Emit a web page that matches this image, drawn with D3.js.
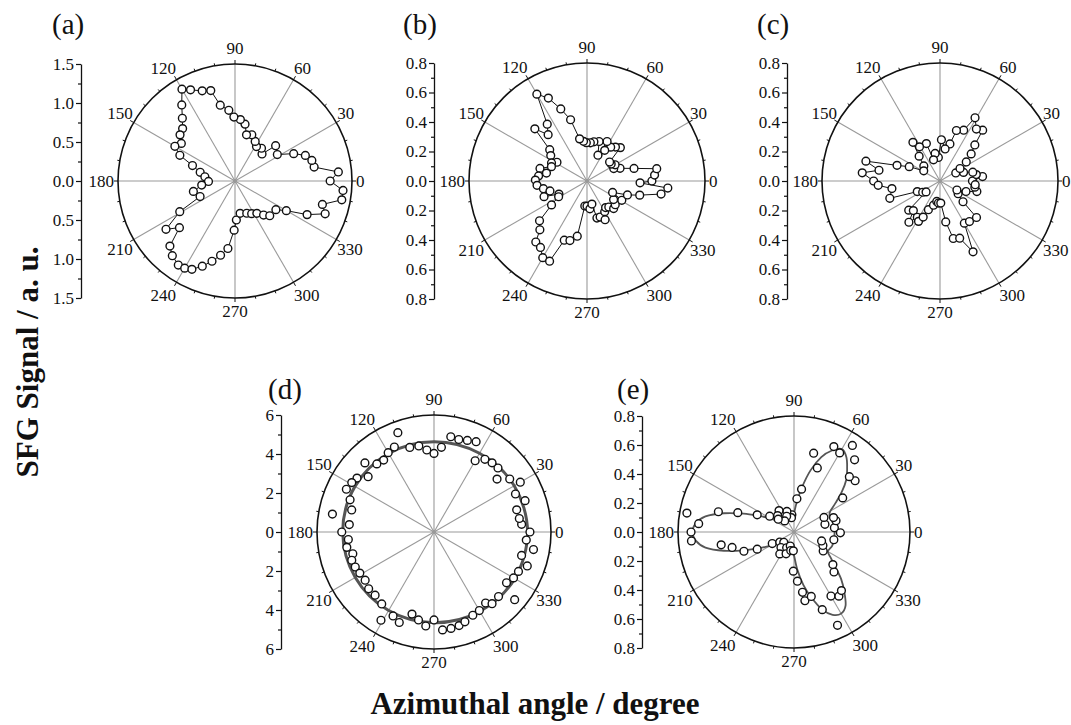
<!DOCTYPE html>
<html><head><meta charset="utf-8">
<script src="https://cdn.jsdelivr.net/npm/d3@7"></script>
<style>
body{margin:0;background:#fff}
svg{display:block}
text{font-family:"Liberation Serif","Times New Roman",serif;fill:#111}
</style>
</head><body>
<svg id="chart" width="1071" height="725"></svg>
<script>
// ---------- data ----------
const angleTicks = [0,30,60,90,120,150,180,210,240,270,300,330];
const ticksA = [0,0.5,1.0,1.5];
const ticksSmall = [0,0.2,0.4,0.6,0.8];
const ticksD = [0,2,4,6];

// [azimuth (deg), SFG signal (a.u.)]
const dataA = [[0,1.22],[5,1.33],[10,1.03],[15,1.02],[20,0.96],[25,0.83],[32,0.64],[41,0.69],[45,0.49],[51,0.54],[58,0.52],[63,0.57],[70,0.63],[76,0.61],[80,0.74],[85,0.79],[91,0.82],[95,0.91],[101,0.99],[105,1.20],[110,1.23],[116,1.30],[120,1.36],[125,1.19],[130,1.05],[135,0.95],[140,0.92],[145,0.84],[150,0.89],[155,0.78],[160,0.58],[166,0.46],[172,0.39],[181,0.34],[187,0.43],[194,0.55],[204,0.49],[209,0.81],[215,1.08],[220,0.93],[225,1.18],[230,1.25],[236,1.30],[240,1.29],[244,1.26],[249,1.17],[254,1.07],[259,0.97],[264,0.87],[269,0.63],[272,0.50],[279,0.42],[290,0.44],[297,0.47],[304,0.50],[310,0.57],[315,0.63],[325,0.64],[330,0.76],[335,1.02],[340,1.23],[345,1.16],[350,1.39],[355,1.39]];

const dataB = [[0,0.44],[5,0.46],[10,0.48],[15,0.33],[21,0.24],[25,0.20],[30,0.22],[35,0.20],[40,0.20],[45,0.32],[50,0.30],[55,0.28],[60,0.24],[63,0.30],[67,0.19],[73,0.28],[80,0.27],[85,0.26],[91,0.26],[95,0.27],[100,0.29],[105,0.43],[110,0.52],[115,0.62],[120,0.68],[125,0.47],[130,0.41],[135,0.50],[140,0.33],[145,0.30],[148,0.24],[153,0.27],[158,0.26],[165,0.33],[169,0.28],[174,0.33],[179,0.35],[185,0.34],[190,0.30],[195,0.26],[200,0.31],[205,0.21],[209,0.22],[214,0.29],[220,0.42],[226,0.46],[230,0.54],[235,0.55],[240,0.60],[245,0.60],[249,0.43],[254,0.42],[260,0.38],[265,0.17],[270,0.17],[276,0.19],[282,0.16],[285,0.26],[290,0.26],[295,0.29],[300,0.24],[305,0.22],[310,0.23],[314,0.26],[320,0.25],[325,0.22],[331,0.27],[336,0.19],[341,0.29],[345,0.37],[350,0.51],[355,0.55],[358,0.36]];

const dataC = [[0,0.22],[6,0.29],[10,0.25],[15,0.23],[20,0.17],[27,0.12],[32,0.16],[36,0.22],[41,0.28],[46,0.34],[50,0.45],[55,0.43],[61,0.49],[65,0.38],[72,0.36],[75,0.26],[81,0.22],[88,0.28],[94,0.16],[100,0.19],[107,0.15],[110,0.27],[121,0.27],[125,0.32],[130,0.22],[137,0.15],[148,0.13],[155,0.23],[160,0.31],[165,0.52],[170,0.42],[174,0.53],[180,0.45],[184,0.42],[189,0.33],[199,0.36],[205,0.17],[213,0.14],[218,0.12],[223,0.29],[228,0.27],[233,0.35],[238,0.29],[242,0.31],[245,0.27],[248,0.21],[255,0.17],[261,0.14],[266,0.15],[272,0.15],[278,0.28],[283,0.40],[289,0.41],[295,0.53],[300,0.33],[306,0.34],[315,0.35],[318,0.21],[325,0.15],[332,0.13],[338,0.19],[344,0.26],[350,0.24],[354,0.24]];

const dataD = [[0,4.92],[5,4.51],[9,4.43],[15,4.39],[19,4.94],[25,4.61],[30,5.11],[35,4.74],[40,4.22],[45,4.64],[50,4.63],[55,4.55],[60,4.22],[65,5.11],[70,5.00],[75,4.91],[80,4.96],[85,4.36],[90,4.03],[95,4.22],[100,4.48],[106,4.51],[110,5.42],[115,4.81],[120,4.70],[125,4.50],[130,4.56],[135,5.01],[140,4.41],[145,4.82],[149,4.92],[154,5.00],[159,4.61],[165,4.37],[170,5.29],[175,4.36],[180,4.73],[185,4.41],[190,4.54],[195,4.31],[199,4.46],[204,4.42],[209,4.35],[215,4.31],[221,4.44],[227,4.43],[234,4.56],[239,5.28],[244,4.79],[249,4.97],[255,4.36],[260,4.58],[265,4.84],[270,4.51],[275,5.04],[280,5.02],[285,4.97],[289,4.87],[295,4.71],[300,4.65],[306,4.50],[309,4.73],[315,4.68],[320,5.40],[325,4.54],[330,4.71],[335,4.78],[340,5.09],[345,4.65],[350,5.18],[355,4.75]];

const fitD = [[0,4.80],[30,4.75],[60,4.66],[90,4.63],[120,4.65],[150,4.68],[180,4.68],[210,4.66],[240,4.65],[270,4.65],[300,4.70],[330,4.78]];

const dataE = [[6,0.28],[14,0.22],[15,0.30],[20,0.29],[26,0.23],[35,0.41],[40,0.55],[45,0.54],[50,0.65],[56,0.72],[60,0.63],[65,0.65],[70,0.47],[76,0.56],[80,0.30],[85,0.23],[97,0.12],[100,0.10],[109,0.15],[115,0.12],[125,0.18],[130,0.10],[135,0.16],[141,0.14],[147,0.20],[155,0.28],[161,0.41],[165,0.54],[170,0.75],[175,0.66],[180,0.71],[185,0.71],[190,0.51],[194,0.44],[201,0.37],[205,0.28],[208,0.17],[215,0.12],[225,0.10],[230,0.14],[237,0.18],[245,0.12],[250,0.16],[255,0.10],[260,0.13],[268,0.13],[269,0.27],[274,0.34],[278,0.42],[279,0.48],[285,0.46],[290,0.57],[295,0.71],[300,0.51],[305,0.54],[309,0.52],[315,0.39],[320,0.35],[327,0.24],[335,0.22],[342,0.20],[349,0.28],[359,0.32]];

const fitE = [[0,0.28],[10,0.28],[20,0.27],[25,0.27],[30,0.29],[35,0.35],[40,0.43],[45,0.51],[50,0.57],[55,0.63],[60,0.66],[65,0.62],[70,0.55],[75,0.44],[80,0.31],[85,0.20],[90,0.13],[100,0.10],[110,0.10],[120,0.10],[130,0.10],[140,0.12],[145,0.15],[150,0.19],[155,0.26],[160,0.37],[165,0.50],[170,0.62],[175,0.68],[180,0.70],[185,0.68],[190,0.62],[195,0.50],[200,0.37],[205,0.26],[210,0.19],[215,0.15],[220,0.12],[230,0.10],[240,0.10],[250,0.10],[260,0.11],[265,0.13],[270,0.16],[275,0.26],[280,0.37],[285,0.47],[290,0.57],[295,0.63],[300,0.65],[305,0.62],[310,0.54],[315,0.46],[320,0.37],[325,0.31],[330,0.27],[340,0.28],[350,0.28]];

// ---------- layout ----------
const panels = [
  {label:"(a)", data:dataA, fit:null, connect:true, max:1.5, ticks:ticksA, fmt:d3.format(".1f"), cx:235, cy:181, R:117, axisX:81, lx:52, ly:34},
  {label:"(b)", data:dataB, fit:null, connect:true, max:0.8, ticks:ticksSmall, fmt:d3.format(".1f"), cx:587, cy:181, R:118, axisX:434, lx:403, ly:34},
  {label:"(c)", data:dataC, fit:null, connect:true, max:0.8, ticks:ticksSmall, fmt:d3.format(".1f"), cx:940, cy:181, R:118, axisX:787, lx:757, ly:34},
  {label:"(d)", data:dataD, fit:fitD, fitW:3, connect:false, max:6, ticks:ticksD, fmt:d3.format("d"), cx:434, cy:532, R:117, axisX:281, lx:268, ly:399},
  {label:"(e)", data:dataE, fit:fitE, fitW:1.8, connect:false, max:0.8, ticks:ticksSmall, fmt:d3.format(".1f"), cx:794, cy:532, R:116, axisX:642, lx:617, ly:399}
];

const svg = d3.select("#chart");
const ang = d3.scaleLinear().domain([0,360]).range([Math.PI/2, Math.PI/2 - 2*Math.PI]);

panels.forEach(p => {
  const g = svg.append("g").attr("transform", `translate(${p.cx},${p.cy})`);
  const r = d3.scaleLinear().domain([0,p.max]).range([0,p.R]);

  // spokes
  g.selectAll("line.spoke").data(angleTicks).join("line").attr("class","spoke")
    .attr("x1",0).attr("y1",0)
    .attr("x2", d => d3.pointRadial(ang(d), p.R)[0])
    .attr("y2", d => d3.pointRadial(ang(d), p.R)[1])
    .attr("stroke","#9a9a9a").attr("stroke-width",1.1);
  g.append("circle").attr("r",2).attr("fill","#999");

  // outer circle + ticks
  g.append("circle").attr("r",p.R).attr("fill","none").attr("stroke","#111").attr("stroke-width",1.6);
  g.selectAll("line.ct").data(d3.range(0,360,10)).join("line").attr("class","ct")
    .attr("x1", d => d3.pointRadial(ang(d), p.R)[0])
    .attr("y1", d => d3.pointRadial(ang(d), p.R)[1])
    .attr("x2", d => d3.pointRadial(ang(d), p.R + (d%30===0?4:2.5))[0])
    .attr("y2", d => d3.pointRadial(ang(d), p.R + (d%30===0?4:2.5))[1])
    .attr("stroke","#111").attr("stroke-width",1);

  // angle labels
  angleTicks.forEach(d => {
    const c = Math.cos(d*Math.PI/180), s = Math.sin(d*Math.PI/180);
    const offY = s > 0.9 ? 10 : 7;
    const x = (p.R + (Math.abs(s) < 0.1 ? 4 : 1)) * c;
    const y = -(p.R + offY) * s;
    const anchor = Math.abs(c) < 0.1 ? "middle" : (c > 0 ? "start" : "end");
    const dy = s > 0.3 ? "0em" : (s < -0.3 ? "0.72em" : "0.35em");
    g.append("text").attr("x",x).attr("y",y).attr("dy",dy)
      .attr("text-anchor",anchor).attr("font-size",17).text(d);
  });

  // fit curve
  if (p.fit) {
    const fl = d3.lineRadial().angle(d => ang(d[0])).radius(d => r(d[1])).curve(d3.curveCardinalClosed);
    g.append("path").attr("d", fl(p.fit)).attr("fill","none").attr("stroke","#555").attr("stroke-width",p.fitW);
  }
  // connecting line
  if (p.connect) {
    const ln = d3.lineRadial().angle(d => ang(d[0])).radius(d => r(d[1])).curve(d3.curveLinearClosed);
    g.append("path").attr("d", ln(p.data)).attr("fill","none").attr("stroke","#111").attr("stroke-width",1);
  }
  // points
  g.selectAll("circle.pt").data(p.data).join("circle").attr("class","pt")
    .attr("cx", d => d3.pointRadial(ang(d[0]), r(d[1]))[0])
    .attr("cy", d => d3.pointRadial(ang(d[0]), r(d[1]))[1])
    .attr("r",3.9).attr("fill","#fff").attr("stroke","#111").attr("stroke-width",1.4);

  // vertical axis
  const y = d3.scaleLinear().domain([-p.max,p.max]).range([p.cy + p.R, p.cy - p.R]);
  const tv = Array.from(new Set(p.ticks.map(t => -t).concat(p.ticks))).sort((a,b)=>a-b);
  const step = p.ticks[1] - p.ticks[0];
  const mv = tv.slice(0,-1).map(t => t + step/2);
  const ag = svg.append("g").attr("transform", `translate(${p.axisX},0)`);
  ag.call(d3.axisLeft(y).tickValues(tv).tickFormat(d => p.fmt(Math.abs(d))).tickSize(5).tickSizeOuter(0).tickPadding(2));
  ag.append("g").call(d3.axisLeft(y).tickValues(mv).tickFormat("").tickSize(3).tickSizeOuter(0))
    .select(".domain").remove();
  ag.selectAll("path.domain").attr("stroke","#111").attr("stroke-width",1.3);
  ag.selectAll(".tick line").attr("stroke","#111").attr("stroke-width",1.2);
  ag.selectAll(".tick text").attr("font-size",17).attr("font-family","Liberation Serif, Times New Roman, serif").attr("fill","#111");

  // panel label
  svg.append("text").attr("x",p.lx).attr("y",p.ly).attr("font-size",29).text(p.label);
});

// axis titles
svg.append("text").attr("transform","translate(38,362) rotate(-90)")
  .attr("text-anchor","middle").attr("font-size",31).attr("font-weight","bold").text("SFG Signal / a. u.");
svg.append("text").attr("x",535).attr("y",714)
  .attr("text-anchor","middle").attr("font-size",31).attr("font-weight","bold").text("Azimuthal angle / degree");
</script>
</body></html>
